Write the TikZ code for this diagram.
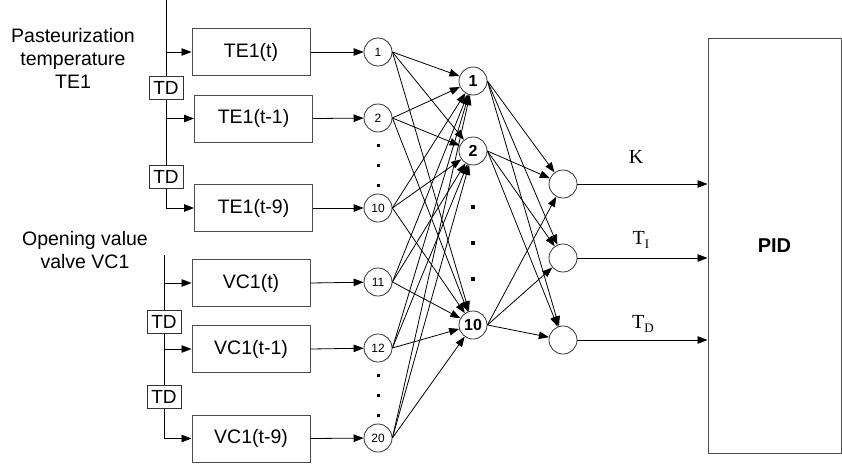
\documentclass[tikz,border=0pt]{standalone}
\usepackage{fontspec}
\setmainfont{Liberation Sans}
\newfontfamily\tiempos{Liberation Serif}
\usetikzlibrary{arrows.meta}

\tikzset{
  caja/.style={draw=black!70, line width=1pt, minimum width=118pt, minimum height=47pt, inner sep=0pt, font=\fontsize{19.5}{21}\selectfont},
  retardo/.style={draw=black!80, fill=white, line width=0.9pt, minimum width=34pt, minimum height=23pt, inner sep=0pt, font=\fontsize{19}{20}\selectfont},
  neurona/.style={circle, draw=black!80, line width=0.8pt, minimum size=28pt, inner sep=0pt},
  flecha/.style={-{Triangle[length=10pt,width=7.5pt]}, line width=0.8pt},
  texto/.style={align=center, font=\fontsize{19.5}{23}\selectfont}
}

\begin{document}
\begin{tikzpicture}[x=1pt,y=-1pt]
\useasboundingbox (0,0) rectangle (842,463);

%Textos de las entradas
\node[texto] (tempTxt) at (73,58) {Pasteurization\\temperature\\TE1};
\node[texto] (valvTxt) at (85,250) {Opening value\\valve VC1};

%Cajas de las entradas retrasadas
\node[caja] (te0) at (251,52) {TE1(t)};
\node[caja] (te1) at (253.5,118.5) {TE1(t-1)};
\node[caja] (te9) at (253.5,208) {TE1(t-9)};
\node[caja] (vc0) at (251,283) {VC1(t)};
\node[caja] (vc1) at (251,349) {VC1(t-1)};
\node[caja] (vc9) at (251,438.5) {VC1(t-9)};

%Lineas verticales con las ramas
\coordinate (teTop) at (166,0);
\coordinate (vcTop) at (164,255);
\draw[flecha] (teTop) |- (te9.west);
\draw[flecha] (teTop |- te0.west) -- (te0.west);
\draw[flecha] (teTop |- te1.west) -- (te1.west);
\draw[flecha] (vcTop) |- (vc9.west);
\draw[flecha] (vcTop |- vc0.west) -- (vc0.west);
\draw[flecha] (vcTop |- vc1.west) -- (vc1.west);

%Bloques de retardo
\node[retardo] (td1) at (166,87.5) {TD};
\node[retardo] (td2) at (166,177) {TD};
\node[retardo] (td3) at (164,322) {TD};
\node[retardo] (td4) at (164,397) {TD};

%Capa de entrada
\foreach \n/\y in {1/52,2/118,10/208,11/282,12/348,20/438}
  \node[neurona, font=\fontsize{12}{13}\selectfont] (i\n) at (378,\y) {\n};
\foreach \c/\n in {te0/1,te1/2,te9/10,vc0/11,vc1/12,vc9/20}
  \draw[flecha] (\c.east) -- (i\n);
\foreach \y in {145,165,185,375,395,415}
  \fill (377,\y-1) rectangle (379.5,\y+1.5);

%Capa oculta
\foreach \n/\y in {1/81,2/151,10/325}
  \node[neurona, font=\bfseries\fontsize{16}{17}\selectfont] (h\n) at (473,\y) {\n};
\foreach \y in {207,243,279}
  \fill (471,\y-2) rectangle (475,\y+2);

%Capa de salida
\foreach \n/\y in {1/184,2/258,3/340}
  \node[neurona] (o\n) at (563,\y) {};

%Conexiones entre capas
\foreach \i in {1,2,10,11,12,20}
  \foreach \h in {1,2,10}
    \draw[flecha] (i\i.east) -- (h\h);
\foreach \h in {1,2,10}
  \foreach \o in {1,2,3}
    \draw[flecha] (h\h.east) -- (o\o);

%Bloque PID
\node[draw=black!70, line width=1pt, minimum width=133pt, minimum height=415pt, font=\bfseries\fontsize{20}{21}\selectfont] (pid) at (774.5,245.5) {PID};
\foreach \o in {1,2,3}
  \draw[flecha] (o\o.east) -- (o\o.east -| pid.west);

%Etiquetas de los parametros
\node[font=\tiempos\fontsize{20}{21}\selectfont] (kTxt) at (636,157) {K};
\node[font=\tiempos\fontsize{20}{21}\selectfont] (tiTxt) at (641,240) {T\raisebox{-4pt}{\fontsize{13}{13}\selectfont I}};
\node[font=\tiempos\fontsize{20}{21}\selectfont] (tdTxt) at (643,324) {T\raisebox{-4pt}{\fontsize{13}{13}\selectfont D}};
\end{tikzpicture}
\end{document}
